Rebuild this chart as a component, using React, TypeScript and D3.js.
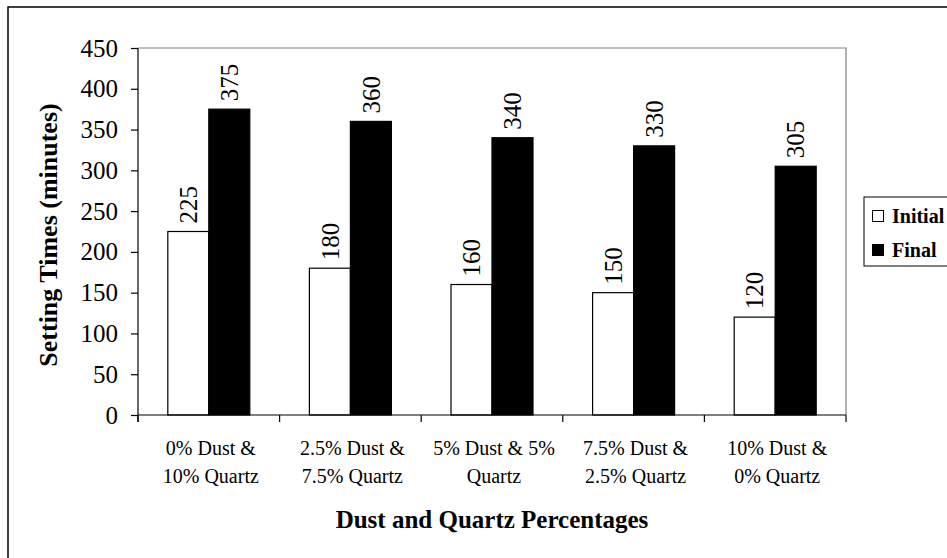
import React, { useEffect, useRef } from 'react';
import * as d3 from 'd3';

const categories = [
  ['0% Dust &', '10% Quartz'],
  ['2.5% Dust &', '7.5% Quartz'],
  ['5% Dust & 5%', 'Quartz'],
  ['7.5% Dust &', '2.5% Quartz'],
  ['10% Dust &', '0% Quartz'],
];
const seriesNames = ['Initial', 'Final'];
const initialValues = [225, 180, 160, 150, 120];
const finalValues = [375, 360, 340, 330, 305];
const yTicks = [0, 50, 100, 150, 200, 250, 300, 350, 400, 450];

const FONT = '"Liberation Serif", "Times New Roman", serif';

const App = () => {
  const chartRef = useRef(null);

  useEffect(() => {
    const svg = d3.select(chartRef.current)
      .attr('width', 947)
      .attr('height', 558)
      .style('background-color', '#ffffff')
      .style('font-family', FONT);

    svg.selectAll('*').remove();

    const left = 138, right = 846, top = 48, bottom = 415;

    // outer frame (runs off the right and bottom of the picture)
    svg.append('path')
      .attr('d', `M8,560 L8,7 L950,7`)
      .attr('fill', 'none')
      .attr('stroke', '#000')
      .attr('stroke-width', 1.5);

    const keys = categories.map((c, i) => String(i));

    const x0 = d3.scaleBand().domain(keys).range([left, right]).padding(0);
    const x1 = d3.scaleBand().domain(seriesNames)
      .range([0, x0.bandwidth()])
      .paddingInner(0)
      .paddingOuter(0.727);
    const y = d3.scaleLinear().domain([0, 450]).range([bottom, top]);

    // plot area border (grey top / right)
    svg.append('path')
      .attr('d', `M${left},${top} L${right},${top} L${right},${bottom}`)
      .attr('fill', 'none')
      .attr('stroke', '#808080')
      .attr('stroke-width', 1.2);

    const rows = categories.map((c, i) => ({
      key: String(i),
      vals: [
        { name: 'Initial', v: initialValues[i] },
        { name: 'Final', v: finalValues[i] },
      ],
    }));

    const groups = svg.append('g')
      .selectAll('g')
      .data(rows)
      .enter().append('g')
      .attr('transform', d => `translate(${x0(d.key)},0)`);

    groups.selectAll('rect')
      .data(d => d.vals)
      .enter().append('rect')
      .attr('x', d => x1(d.name))
      .attr('y', d => y(d.v))
      .attr('width', x1.bandwidth())
      .attr('height', d => y(0) - y(d.v))
      .attr('fill', d => (d.name === 'Initial' ? '#ffffff' : '#000000'))
      .attr('stroke', '#000')
      .attr('stroke-width', 1.2);

    // value labels, rotated
    groups.selectAll('text')
      .data(d => d.vals)
      .enter().append('text')
      .attr('transform', d => `translate(${x1(d.name) + x1.bandwidth() / 2},${y(d.v) - 8}) rotate(-90)`)
      .attr('dy', '0.35em')
      .attr('text-anchor', 'start')
      .style('font-size', '25px')
      .style('fill', '#000')
      .text(d => d.v);

    // y axis
    const yAxis = svg.append('g')
      .attr('transform', `translate(${left},0)`)
      .call(d3.axisLeft(y).tickValues(yTicks).tickSize(7).tickPadding(13));
    yAxis.select('.domain').attr('stroke', '#000').attr('stroke-width', 1.2)
      .attr('d', `M0,${top}V${bottom + 7}`);
    yAxis.selectAll('.tick line').attr('stroke', '#000').attr('stroke-width', 1.2);
    yAxis.selectAll('.tick text')
      .style('font-family', FONT)
      .style('font-size', '25px')
      .style('fill', '#000');

    // x axis: baseline with ticks at category boundaries
    svg.append('line')
      .attr('x1', left).attr('x2', right)
      .attr('y1', bottom).attr('y2', bottom)
      .attr('stroke', '#000').attr('stroke-width', 1.2);
    const bounds = keys.map(k => x0(k)).concat([right]);
    svg.append('g')
      .selectAll('line')
      .data(bounds)
      .enter().append('line')
      .attr('x1', d => d).attr('x2', d => d)
      .attr('y1', bottom).attr('y2', bottom + 7)
      .attr('stroke', '#000').attr('stroke-width', 1.2);

    // category labels
    const catText = svg.append('g')
      .selectAll('text')
      .data(categories)
      .enter().append('text')
      .attr('text-anchor', 'middle')
      .style('font-size', '20px')
      .style('fill', '#000');
    catText.each(function (d, i) {
      const cx = x0(keys[i]) + x0.bandwidth() / 2 + 2;
      d3.select(this).selectAll('tspan')
        .data(d)
        .enter().append('tspan')
        .attr('x', cx)
        .attr('y', (t, j) => 455 + j * 28)
        .text(t => t);
    });

    // axis titles
    svg.append('text')
      .attr('x', 492)
      .attr('y', 528)
      .attr('text-anchor', 'middle')
      .style('font-size', '25px')
      .style('font-weight', 'bold')
      .text('Dust and Quartz Percentages');

    svg.append('text')
      .attr('transform', `translate(57,235) rotate(-90)`)
      .attr('text-anchor', 'middle')
      .style('font-size', '26px')
      .style('font-weight', 'bold')
      .text('Setting Times (minutes)');

    // legend
    const legend = svg.append('g');
    legend.append('rect')
      .attr('x', 864).attr('y', 197)
      .attr('width', 90).attr('height', 69)
      .attr('fill', '#fff')
      .attr('stroke', '#000')
      .attr('stroke-width', 1);
    const items = legend.selectAll('g.item')
      .data(seriesNames)
      .enter().append('g')
      .attr('class', 'item')
      .attr('transform', (d, i) => `translate(872,${216 + i * 34})`);
    items.append('rect')
      .attr('x', 0.5).attr('y', -5.5)
      .attr('width', 11).attr('height', 11)
      .attr('fill', d => (d === 'Initial' ? '#fff' : '#000'))
      .attr('stroke', '#000')
      .attr('stroke-width', 1);
    items.append('text')
      .attr('x', 20)
      .attr('y', 7)
      .style('font-size', '20px')
      .style('font-weight', 'bold')
      .text(d => d);
  }, []);

  return (
    <svg ref={chartRef} style={{ position: 'absolute', left: 0, top: 0, display: 'block' }}></svg>
  );
};

export default App;
